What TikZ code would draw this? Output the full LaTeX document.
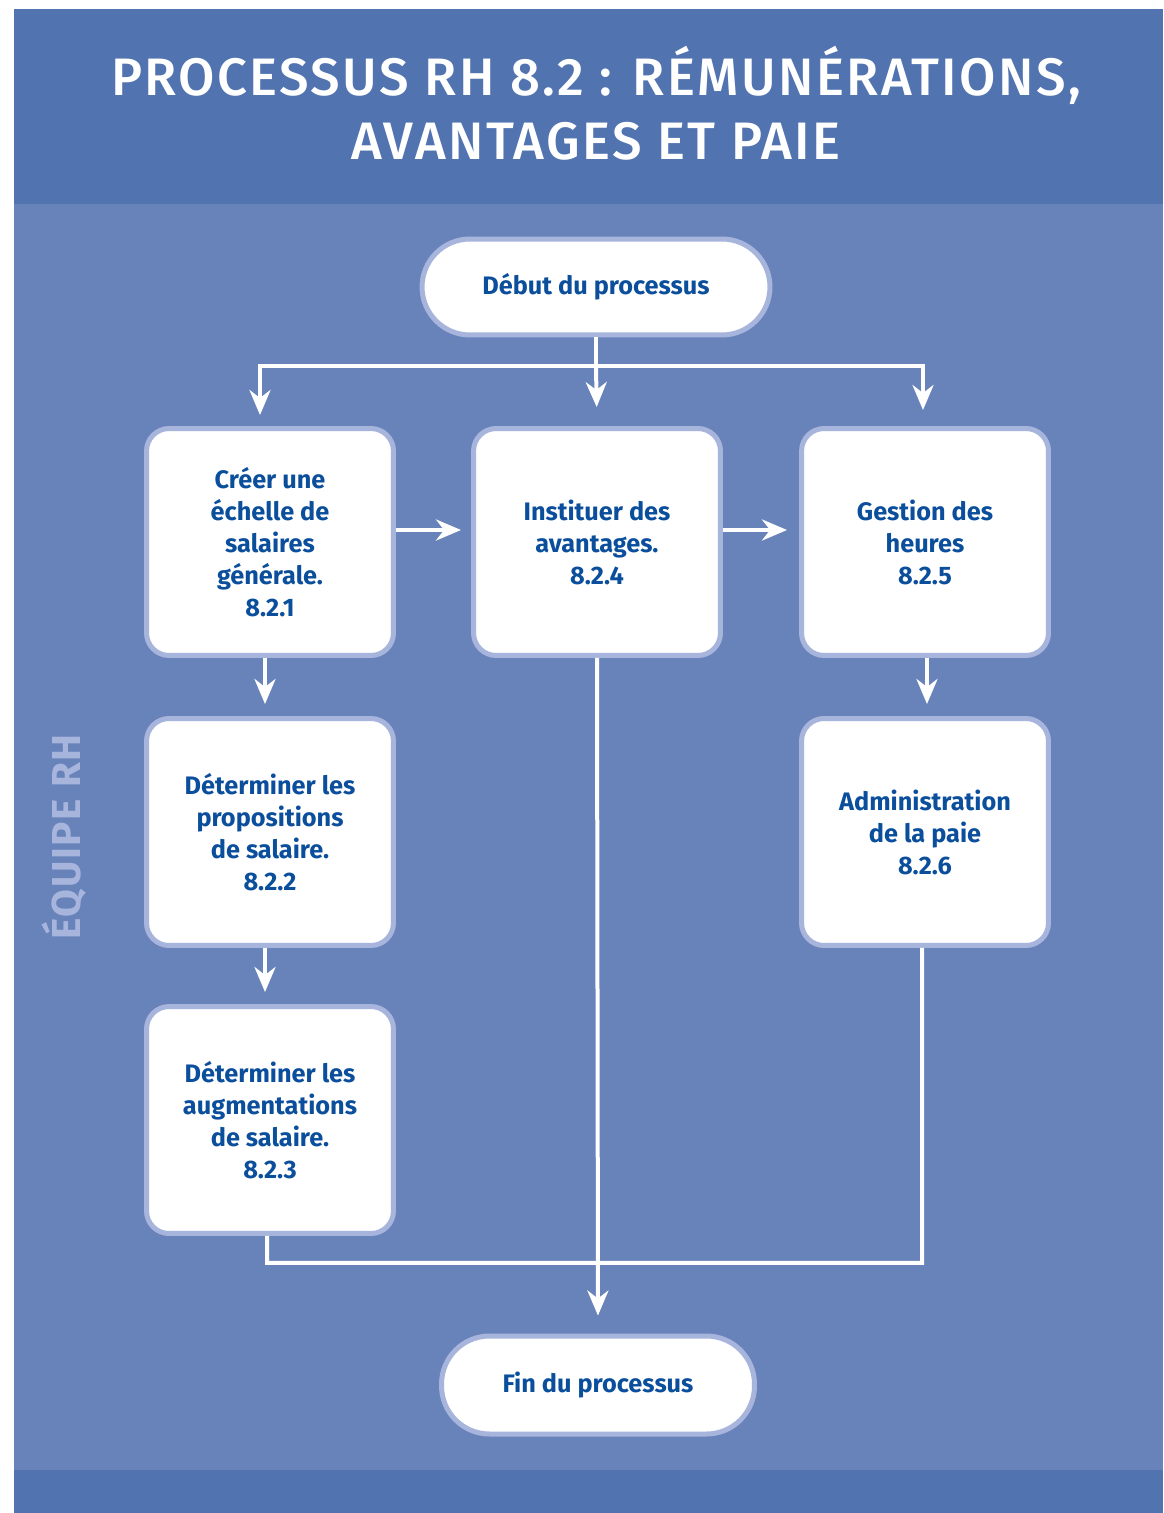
\documentclass[tikz,border=0pt]{standalone}
\usepackage{fontspec}
\setmainfont{Fira Sans}
\newfontfamily\titlefont[UprightFont={* Medium}]{Fira Sans}
\usetikzlibrary{arrows.meta, positioning, calc}

\definecolor{bandblue}{HTML}{5173B0}
\definecolor{bodyblue}{HTML}{6882BA}
\definecolor{boxedge}{HTML}{A7B4DC}
\definecolor{textblue}{HTML}{0B4F9C}

\begin{document}
\begin{tikzpicture}[x=0.02cm, y=-0.02cm,
        stepbox/.style={draw=boxedge, line width=0.1cm, fill=white, rounded corners=0.45cm,
            minimum width=4.94cm, minimum height=4.54cm, align=center, text=textblue,
            font=\bfseries\fontsize{14.4}{18.2}\selectfont},
        termbox/.style={stepbox, rounded corners=0.96cm, minimum width=6.96cm, minimum height=1.92cm},
        link/.style={draw=white, line width=0.08cm},
        flow/.style={link, -{Stealth[length=0.5cm, width=0.42cm, inset=0.16cm]}}]

        % page and colour bands
        \useasboundingbox[fill=white] (0,0) rectangle (1163,1513);
        \fill[bodyblue] (14,9) rectangle (1163,1513);
        \fill[bandblue] (14,9) rectangle (1163,204);
        \fill[bandblue] (14,1470) rectangle (1163,1513);

        % title
        \node[text=white, align=center, font=\titlefont\fontsize{30}{36.4}\selectfont\addfontfeatures{LetterSpace=4.5}]
            (title) at (596,103) {PROCESSUS RH 8.2 : RÉMUNÉRATIONS,\\AVANTAGES ET PAIE};

        % side label
        \node[text=boxedge, rotate=90, font=\bfseries\fontsize{23}{28}\selectfont\addfontfeatures{LetterSpace=4}]
            (team) at (64,837) {ÉQUIPE RH};

        % steps
        \node[termbox] (debut) at (596,287) {Début du processus};
        \node[stepbox] (creer) at (270,542) {Créer une\\échelle de\\salaires\\générale.\\8.2.1};
        \node[stepbox] (avant) at (597,542) {Instituer des\\avantages.\\8.2.4};
        \node[stepbox] (heures) at (925,542) {Gestion des\\heures\\8.2.5};
        \node[stepbox] (propos) at (270,832) {Déterminer les\\propositions\\de salaire.\\8.2.2};
        \node[stepbox] (paie) at (925,832) {Administration\\de la paie\\8.2.6};
        \node[stepbox] (augm) at (270,1120) {Déterminer les\\augmentations\\de salaire.\\8.2.3};
        \node[termbox, minimum width=6.26cm, minimum height=1.96cm] (fin) at (598,1385) {Fin du processus};

        % split below the start
        \coordinate (split) at ($(debut.south)+(0,29)$);
        \draw[link] (debut.south) -- (split);
        \draw[flow, shorten >=0.22cm] (split) -| ([xshift=-0.2cm]creer.north);
        \draw[flow, shorten >=0.38cm] (split) -- (avant.north);
        \draw[flow, shorten >=0.32cm] (split) -| ([xshift=-0.04cm]heures.north);

        % arrows between steps
        \draw[flow, shorten >=0.2cm] ([yshift=0.24cm]creer.east) -- ([yshift=0.24cm]avant.west);
        \draw[flow, shorten >=0.24cm] ([yshift=0.24cm]avant.east) -- ([yshift=0.24cm]heures.west);
        \draw[flow, shorten >=0.24cm] ([xshift=-0.1cm]creer.south) -- ([xshift=-0.1cm]propos.north);
        \draw[flow, shorten >=0.24cm] ([xshift=-0.1cm]propos.south) -- ([xshift=-0.1cm]augm.north);
        \draw[flow, shorten >=0.24cm] ([xshift=0.04cm]heures.south) -- ([xshift=0.04cm]paie.north);

        % merge towards the end
        \draw[link] ([xshift=-0.06cm]augm.south) |- ($(paie.south)+(-3,315)$) -- ([xshift=-0.06cm]paie.south);
        \draw[flow, shorten >=0.36cm] (avant.south) -- (fin.north);
    \end{tikzpicture}
\end{document}
